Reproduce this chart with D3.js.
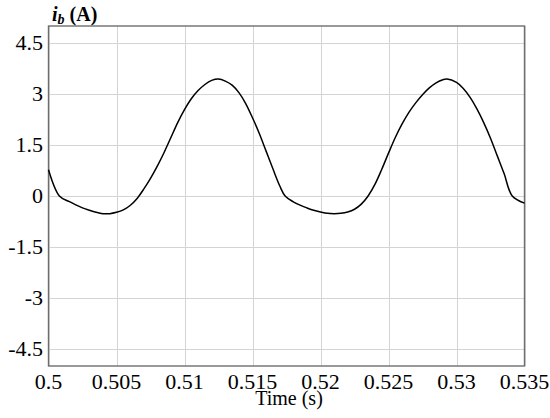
<!DOCTYPE html>
<html><head><meta charset="utf-8">
<script src="https://cdn.jsdelivr.net/npm/d3@7"></script>
<style>body{margin:0;background:#fff;} svg{display:block;}</style>
</head><body>
<svg id="c" width="550" height="418"></svg>
<script>
const time = [0.5000,0.5008,0.5015,0.5020,0.5025,0.5030,0.5035,0.5040,0.5045,0.5050,0.5055,0.5060,0.5065,0.5070,0.5075,0.5080,0.5085,0.5090,0.5095,0.5100,0.5105,0.5110,0.5115,0.5120,0.5125,
  0.5130,0.5135,0.5140,0.5145,0.5150,0.5155,0.5160,0.5165,0.5170,0.5174,
  0.5180,0.5185,0.5190,0.5195,0.5200,0.5205,0.5210,0.5215,0.5220,0.5225,0.5230,0.5235,0.5240,0.5245,0.5250,0.5255,0.5260,0.5265,0.5270,0.5275,0.5280,0.5285,0.5290,0.5293,
  0.5300,0.5305,0.5310,0.5315,0.5320,0.5325,0.5330,0.5335,0.5341,0.5350];
const current = [0.77,0.00,-0.16,-0.26,-0.35,-0.42,-0.48,-0.52,-0.52,-0.48,-0.41,-0.28,-0.08,0.20,0.52,0.88,1.28,1.72,2.16,2.54,2.86,3.10,3.28,3.40,3.44,
  3.38,3.26,3.04,2.72,2.30,1.84,1.32,0.80,0.30,0.00,
  -0.17,-0.27,-0.35,-0.42,-0.47,-0.51,-0.52,-0.51,-0.47,-0.39,-0.24,0.00,0.34,0.78,1.26,1.72,2.12,2.46,2.74,2.98,3.18,3.33,3.42,3.44,
  3.34,3.16,2.90,2.56,2.16,1.70,1.18,0.66,0.00,-0.21];
const xTicks = [0.5,0.505,0.51,0.515,0.52,0.525,0.53,0.535];
const xTickLabels = ["0.5","0.505","0.51","0.515","0.52","0.525","0.53","0.535"];
const yTicks = [-4.5,-3,-1.5,0,1.5,3,4.5];
const yTickLabels = ["-4.5","-3","-1.5","0","1.5","3","4.5"];

const svg = d3.select("#c");
const L = 48.5, R = 524.5, T = 26, B = 366;
const x = d3.scaleLinear().domain([0.5,0.535]).range([L,R]);
const y = d3.scaleLinear().domain([-5,5]).range([B,T]);
const font = "'Liberation Serif','Times New Roman',serif";

// grid
svg.append("g").selectAll("line").data(xTicks).join("line")
  .attr("x1",d=>Math.round(x(d))+0.5).attr("x2",d=>Math.round(x(d))+0.5)
  .attr("y1",T).attr("y2",B).attr("stroke","#d4d4d4").attr("stroke-width",1);
svg.append("g").selectAll("line").data(yTicks).join("line")
  .attr("y1",d=>Math.round(y(d))+0.5).attr("y2",d=>Math.round(y(d))+0.5)
  .attr("x1",L).attr("x2",R).attr("stroke","#d4d4d4").attr("stroke-width",1);

// frame
svg.append("rect").attr("x",L).attr("y",T).attr("width",R-L).attr("height",B-T)
  .attr("fill","none").attr("stroke","#6e6e6e").attr("stroke-width",1.4);

// line
const pts = time.map((t,i)=>[t,current[i]]);
svg.append("path").datum(pts)
  .attr("d", d3.line().x(d=>x(d[0])).y(d=>y(d[1])).curve(d3.curveCatmullRom.alpha(0.5)))
  .attr("fill","none").attr("stroke","#000").attr("stroke-width",1.5)
  .attr("stroke-linejoin","round");

// x tick labels
svg.append("g").selectAll("text").data(xTicks).join("text")
  .attr("x",d=>x(d)).attr("y",389).attr("text-anchor","middle")
  .attr("font-family",font).attr("font-size",22).attr("fill","#000")
  .text((d,i)=>xTickLabels[i]);
// y tick labels
svg.append("g").selectAll("text").data(yTicks).join("text")
  .attr("x",43).attr("y",d=>y(d)).attr("dy","0.34em").attr("text-anchor","end")
  .attr("font-family",font).attr("font-size",22).attr("fill","#000")
  .text((d,i)=>yTickLabels[i]);

// axis title
svg.append("text").attr("x",289).attr("y",405).attr("text-anchor","middle")
  .attr("font-family",font).attr("font-size",20).attr("fill","#000").text("Time (s)");

// y title
const t = svg.append("text").attr("x",52).attr("y",21)
  .attr("font-family",font).attr("font-size",20).attr("font-weight","bold").attr("fill","#000");
t.append("tspan").attr("font-style","italic").text("i");
t.append("tspan").attr("font-style","italic").attr("font-size",14).attr("dy",3).text("b");
t.append("tspan").attr("dy",-3).text(" (A)");
</script>
</body></html>
